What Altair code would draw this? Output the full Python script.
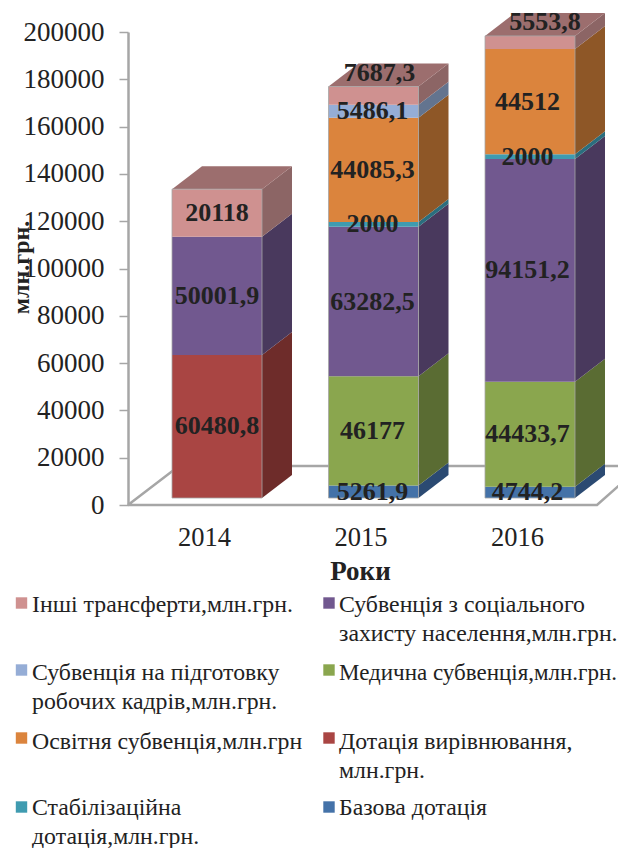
import altair as alt
import pandas as pd

# ---------- data ----------
YEARS = [2014, 2015, 2016]
SERIES = ["Базова дотація", "Дотація вирівнювання", "Медична субвенція", "Субвенція соц", "Стабілізаційна",
          "Освітня субвенція", "Субвенція на підготовку", "Інші трансферти"]
V2014 = [0, 60480.8, 0, 50001.9, 0, 0, 0, 20118]
V2015 = [5261.9, 0, 46177, 63282.5, 2000, 44085.3, 5486.1, 7687.3]
V2016 = [4744.2, 0, 44433.7, 94151.2, 2000, 44512, 0, 5553.8]
LABELS = {2014: ["", "60480,8", "", "50001,9", "", "", "", "20118"],
          2015: ["5261,9", "", "46177", "63282,5", "2000", "44085,3", "5486,1", "7687,3"],
          2016: ["4744,2", "", "44433,7", "94151,2", "2000", "44512", "", "5553,8"]}
LEGEND_ORDER = ["Інші трансферти", "Субвенція соц", "Субвенція на підготовку", "Медична субвенція",
                "Освітня субвенція", "Дотація вирівнювання", "Стабілізаційна", "Базова дотація"]
LEGEND_TEXT = [["Інші трансферти,млн.грн."],
               ["Субвенція з соціального", "захисту населення,млн.грн."],
               ["Субвенція на підготовку", "робочих кадрів,млн.грн."],
               ["Медична субвенція,млн.грн."],
               ["Освітня субвенція,млн.грн"],
               ["Дотація вирівнювання,", "млн.грн."],
               ["Стабілізаційна", "дотація,млн.грн."],
               ["Базова дотація"]]

# ---------- styles ----------
FRONT = ["#4472A8", "#A94543", "#8AA64E", "#71588F", "#3F9BB0", "#DB843D", "#95ADD6", "#CF9190"]
SIDE = ["#2B4A72", "#6E2C2A", "#5A6C33", "#49395D", "#2A6E7E", "#8E5727", "#63748F", "#8C6565"]
TOP = "#9C6E6E"
GREY = "#A6A6A6"
INK = "#222222"
FONT = "Liberation Serif"

# ---------- geometry (image pixels -> data units) ----------
PLOT_L, PLOT_R, PLOT_T, PLOT_B = 128, 618, 32, 505
PX_PER_YEAR = 156.5
X0_PX = 217
K = (PLOT_B - PLOT_T) / 200000


def px_x(p):
    return 2014 + (p - X0_PX) / PX_PER_YEAR


def px_y(p):
    return (PLOT_B - p) / K


HALF = 45 / PX_PER_YEAR
DX = 30 / PX_PER_YEAR
DY = 23 / K
LIFT = 7 / K
LABEL_DX = {2014: 0, 2015: -1, 2016: -2.5}

xs = alt.Scale(domain=[px_x(PLOT_L), px_x(PLOT_R)], nice=False, zero=False)
ys = alt.Scale(domain=[0, 200000], nice=False)
cs = alt.Scale(domain=SERIES, range=FRONT)

front, side, top, labels, outline = [], [], [], [], []
for year, vals in zip(YEARS, [V2014, V2015, V2016]):
    c = LIFT
    base = c
    for i, v in enumerate(vals):
        if not v:
            continue
        lo, hi = c, c + v
        c = hi
        front.append(dict(x=year - HALF, x2=year + HALF, y=lo, y2=hi, s=SERIES[i]))
        key = f"{year}-{i}"
        for t in (0, 1):
            side.append(dict(x=year + HALF + t * DX, y=lo + t * DY, y2=hi + t * DY, key=key, col=SIDE[i]))
        lx, ly = year + LABEL_DX[year] / PX_PER_YEAR, (lo + hi) / 2
        if LABELS[year][i] == "7687,3":
            lx, ly = year + 6 / PX_PER_YEAR, ly + DY
        if LABELS[year][i] == "5553,8":
            lx, ly = year + 15 / PX_PER_YEAR, ly + DY - 2.5 / K
        labels.append(dict(x=lx, y=ly, t=LABELS[year][i]))
    for t in (0, 1):
        top.append(dict(x=year - HALF + t * DX, x2=year + HALF + t * DX, y=c + t * DY, key=str(year)))
    outline.append(dict(x=year - HALF, x2=year + HALF, y=base, y2=c))

floor_pts = [(PLOT_L, 505), (597, 505), (641, 466), (179, 466), (PLOT_L, 505)]
floor = pd.DataFrame([dict(x=px_x(a), y=px_y(b), i=n) for n, (a, b) in enumerate(floor_pts)])

leg_col_sym = [21.5, 329]
leg_col_txt = [32, 339]
leg_row_sym = [603, 670, 738, 807]
leg_row_txt = [605, 673, 742, 808]
LINE = 29
squares, ltext = [], []
for n, (s, lines) in enumerate(zip(LEGEND_ORDER, LEGEND_TEXT)):
    col, row = n % 2, n // 2
    squares.append(dict(x=px_x(leg_col_sym[col]), y=px_y(leg_row_sym[row]), s=s))
    for m, line in enumerate(lines):
        # the longest line has to stay inside the 610 px wide drawing
        fs = 23 if line.startswith("Медична") else 23.8
        ltext.append(dict(x=px_x(leg_col_txt[col]), y=px_y(leg_row_txt[row] + m * LINE), t=line, fs=fs))

x_axis = alt.Axis(values=YEARS, format="d", title="Роки", grid=False, domain=False, ticks=False,
                  labelFont=FONT, labelFontSize=26.5, labelColor=INK, labelOffset=-13, labelPadding=19,
                  titleFont=FONT, titleFontSize=27, titleFontWeight="bold", titleColor=INK,
                  titleX=232, titleY=53, labelFlush=False)
y_axis = alt.Axis(values=list(range(0, 200001, 20000)), format="d", title="млн.грн.", grid=False,
                  domainColor=GREY, domainWidth=2.5, tickColor=GREY, tickWidth=1.5, tickSize=9,
                  labelFont=FONT, labelFontSize=27, labelColor=INK, labelPadding=15,
                  titleFont=FONT, titleFontSize=24, titleFontWeight="bold", titleColor=INK,
                  titleX=-100, titleY=235, titleBaseline="alphabetic", labelOverlap=False)

X = alt.X("x:Q", scale=xs, axis=x_axis)
Y = alt.Y("y:Q", scale=ys, axis=y_axis)

floor_layer = alt.Chart(floor).mark_line(color=GREY, strokeWidth=2.5).encode(x=X, y=Y, order="i:Q")

side_layer = alt.Chart(pd.DataFrame(side)).mark_area(orient="vertical").encode(
    x=X, y=Y, y2="y2:Q", detail="key:N", color=alt.Color("col:N", scale=None))
top_layer = alt.Chart(pd.DataFrame(top)).mark_area(orient="horizontal", color=TOP).encode(
    x=X, x2="x2:Q", y=Y, detail="key:N")
front_layer = alt.Chart(pd.DataFrame(front)).mark_rect().encode(
    x=X, x2="x2:Q", y=Y, y2="y2:Q", color=alt.Color("s:N", scale=cs, legend=None))
outline_layer = alt.Chart(pd.DataFrame(outline)).mark_rect(fillOpacity=0, stroke=GREY, strokeWidth=0.8).encode(
    x=X, x2="x2:Q", y=Y, y2="y2:Q")
label_layer = alt.Chart(pd.DataFrame(labels)).mark_text(
    font=FONT, fontSize=26, fontWeight="bold", color=INK).encode(x=X, y=Y, text="t:N")

sq_layer = alt.Chart(pd.DataFrame(squares)).mark_point(shape="square", filled=True, size=130, opacity=1).encode(
    x=X, y=Y, color=alt.Color("s:N", scale=cs, legend=None))
lt_layer = alt.Chart(pd.DataFrame(ltext)).mark_text(
    font=FONT, color=INK, align="left", baseline="middle").encode(
    x=X, y=Y, text="t:N", size=alt.Size("fs:Q", scale=None, legend=None))

chart = alt.layer(floor_layer, side_layer, top_layer, front_layer, outline_layer, label_layer,
                  sq_layer, lt_layer).properties(
    width=PLOT_R - PLOT_L, height=PLOT_B - PLOT_T,
    autosize=alt.AutoSizeParams(type="none"),
    padding={"left": PLOT_L - 8, "top": PLOT_T - 8, "right": 0, "bottom": 848 - (PLOT_B - 8) - 8},
).configure_view(stroke=None)

chart.save("out.html", embed_options={"renderer": "svg", "actions": False})
